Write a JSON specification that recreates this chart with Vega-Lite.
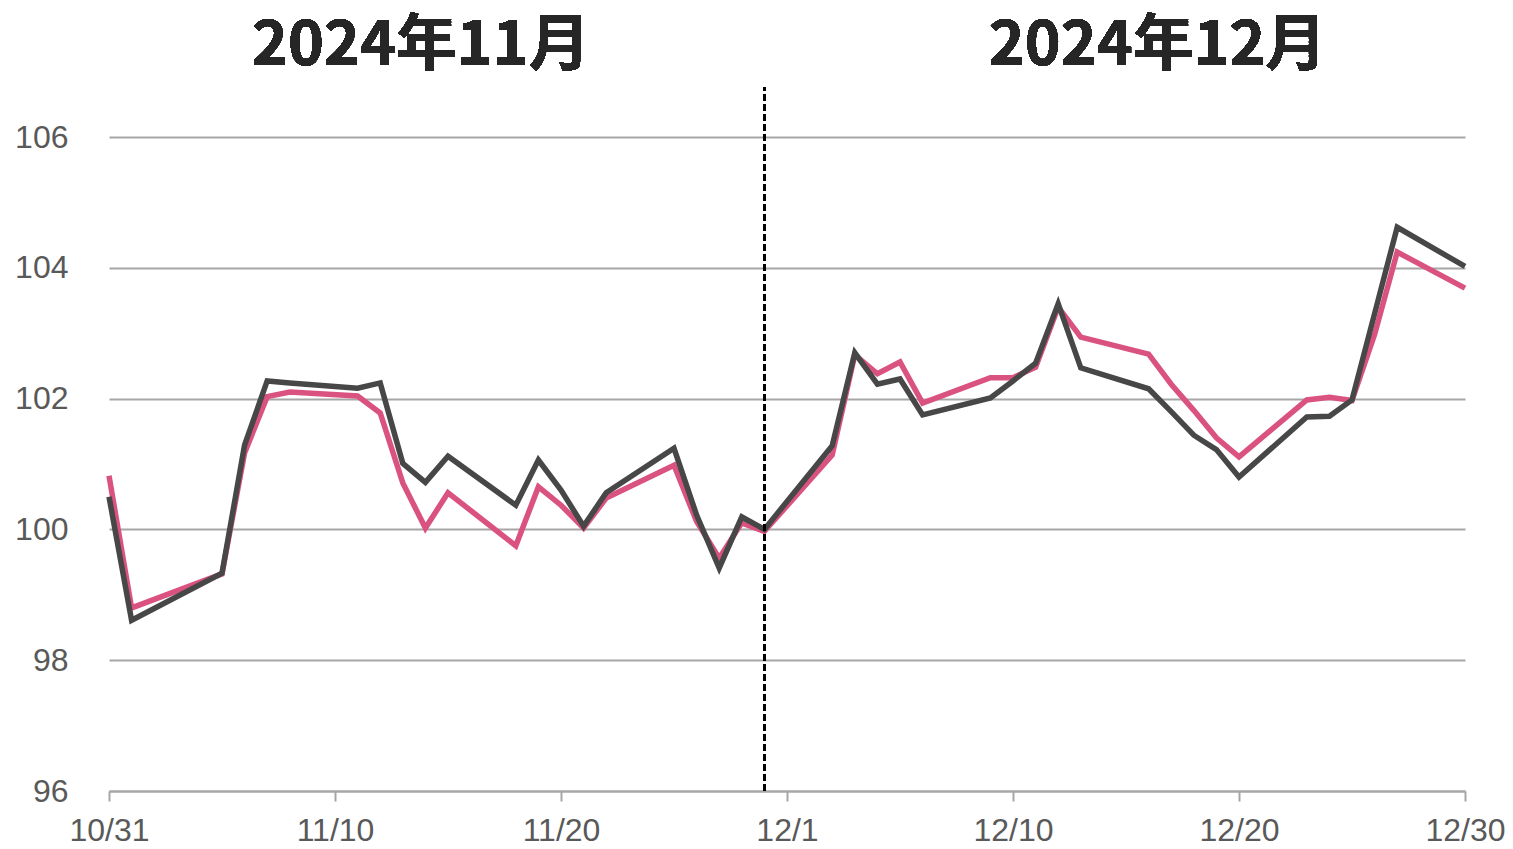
{
  "$schema": "https://vega.github.io/schema/vega-lite/v6.json",
  "width": 1356,
  "height": 654,
  "autosize": {"type": "none"},
  "padding": {"left": 109, "top": 137, "right": 48, "bottom": 58},
  "background": "white",
  "config": {"view": {"stroke": null}},
  "data": {"values": [
    {"day": 0, "A": 100.5, "B": 100.82},
    {"day": 1, "A": 98.61, "B": 98.8},
    {"day": 5, "A": 99.33, "B": 99.32},
    {"day": 6, "A": 101.29, "B": 101.17},
    {"day": 7, "A": 102.27, "B": 102.03},
    {"day": 8, "A": 102.24, "B": 102.1},
    {"day": 11, "A": 102.16, "B": 102.04},
    {"day": 12, "A": 102.24, "B": 101.78},
    {"day": 13, "A": 101.01, "B": 100.71},
    {"day": 14, "A": 100.72, "B": 100.02},
    {"day": 15, "A": 101.12, "B": 100.56},
    {"day": 18, "A": 100.37, "B": 99.75},
    {"day": 19, "A": 101.06, "B": 100.65},
    {"day": 20, "A": 100.6, "B": 100.37},
    {"day": 21, "A": 100.05, "B": 100.02},
    {"day": 22, "A": 100.56, "B": 100.48},
    {"day": 25, "A": 101.24, "B": 100.98},
    {"day": 26, "A": 100.22, "B": 100.12},
    {"day": 27, "A": 99.41, "B": 99.56},
    {"day": 28, "A": 100.19, "B": 100.1},
    {"day": 29, "A": 100.0, "B": 99.97},
    {"day": 32, "A": 101.28, "B": 101.14},
    {"day": 33, "A": 102.7, "B": 102.67},
    {"day": 34, "A": 102.22, "B": 102.38},
    {"day": 35, "A": 102.3, "B": 102.56},
    {"day": 36, "A": 101.75, "B": 101.93},
    {"day": 39, "A": 102.01, "B": 102.32},
    {"day": 40, "A": 102.27, "B": 102.32},
    {"day": 41, "A": 102.54, "B": 102.48},
    {"day": 42, "A": 103.45, "B": 103.4},
    {"day": 43, "A": 102.47, "B": 102.94},
    {"day": 46, "A": 102.15, "B": 102.68},
    {"day": 47, "A": 101.8, "B": 102.22},
    {"day": 48, "A": 101.44, "B": 101.82},
    {"day": 49, "A": 101.22, "B": 101.4},
    {"day": 50, "A": 100.8, "B": 101.11},
    {"day": 53, "A": 101.72, "B": 101.98},
    {"day": 54, "A": 101.73, "B": 102.02},
    {"day": 55, "A": 101.98, "B": 101.97},
    {"day": 56, "A": 103.3, "B": 102.98},
    {"day": 57, "A": 104.62, "B": 104.24},
    {"day": 60, "A": 104.02, "B": 103.69}
  ]},
  "encoding": {
    "x": {
      "field": "day", "type": "quantitative",
      "scale": {"domain": [0, 60], "nice": false, "zero": false},
      "axis": {
        "title": null, "grid": false,
        "values": [0, 10, 20, 30, 40, 50, 60],
        "labelExpr": "{'0':'10/31','10':'11/10','20':'11/20','30':'12/1','40':'12/10','50':'12/20','60':'12/30'}[datum.value + '']",
        "domainColor": "#a6a6a6", "domainWidth": 2,
        "tickColor": "#a6a6a6", "tickWidth": 2, "tickSize": 10,
        "labelFont": "Liberation Sans", "labelFontSize": 32, "labelColor": "#595959",
        "labelPadding": 14, "labelFlush": false, "labelOverlap": false
      }
    }
  },
  "layer": [
    {
      "mark": {"type": "line", "color": "#da5380", "strokeWidth": 5.5, "strokeJoin": "miter", "clip": false},
      "encoding": {
        "y": {
          "field": "B", "type": "quantitative",
          "scale": {"domain": [96, 106], "nice": false, "zero": false},
          "axis": {
            "title": null, "values": [96, 98, 100, 102, 104, 106], "format": "d",
            "grid": true, "gridColor": "#a6a6a6", "gridWidth": 2,
            "domain": false, "ticks": false,
            "labelFont": "Liberation Sans", "labelFontSize": 32, "labelColor": "#595959",
            "labelPadding": 41
          }
        }
      }
    },
    {
      "mark": {"type": "line", "color": "#474747", "strokeWidth": 5.5, "strokeJoin": "miter", "clip": false},
      "encoding": {"y": {"field": "A", "type": "quantitative"}}
    },
    {
      "mark": {"type": "rule", "color": "black", "strokeWidth": 2, "strokeDash": [7, 3]},
      "encoding": {"x": {"datum": 29}, "y": {"datum": 96}, "y2": {"datum": 106.76}}
    },
    {
      "mark": {"type": "text", "font": "Noto Sans CJK JP", "fontWeight": "bold", "fontSize": 61, "color": "#262626", "align": "center", "baseline": "alphabetic"},
      "encoding": {"x": {"datum": 13.8}, "y": {"datum": 107.1}, "text": {"value": "2024年11月"}}
    },
    {
      "mark": {"type": "text", "font": "Noto Sans CJK JP", "fontWeight": "bold", "fontSize": 61, "color": "#262626", "align": "center", "baseline": "alphabetic"},
      "encoding": {"x": {"datum": 46.4}, "y": {"datum": 107.1}, "text": {"value": "2024年12月"}}
    }
  ]
}
